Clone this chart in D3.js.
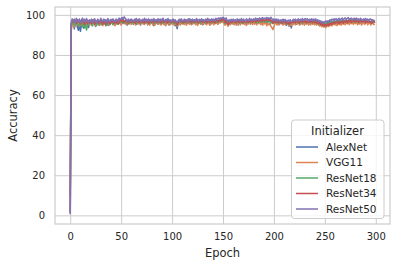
<!DOCTYPE html>
<html><head><meta charset="utf-8">
<script src="https://cdn.jsdelivr.net/npm/d3@7"></script>
<style>body{margin:0;background:#fff}svg{display:block;font-family:"DejaVu Sans",sans-serif}</style>
</head><body><svg id="c" width="396" height="268"></svg>
<script>
const seriesNames = ["AlexNet","VGG11","ResNet18","ResNet34","ResNet50"];
const colors = ["#4c72b0","#dd8452","#55a868","#c44e52","#8172b3"];
const xTicks = [0,50,100,150,200,250,300];
const yTicks = [0,20,40,60,80,100];

const alexnet = [1.5,93.6,96.2,97.1,93.0,95.4,96.8,93.9,92.3,95.7,91.8,95.0,96.9,93.4,96.3,94.1,97.0,95.2,93.7,96.4,
97.0,94.8,96.1,97.5,95.4,94.2,96.9,95.8,97.3,94.9,96.5,97.2,95.3,97.6,96.0,94.6,97.1,96.2,97.4,95.1,
96.4,97.6,95.5,96.9,94.8,96.3,97.5,95.4,97.9,96.1,97.2,95.7,98.0,96.8,95.6,97.3,94.9,97.0,96.2,97.7,
96.1,97.2,95.3,96.7,97.9,95.2,97.0,96.0,97.5,94.9,96.6,97.6,95.5,97.1,96.3,97.8,95.0,96.9,96.2,97.4,
95.8,97.1,94.7,97.5,96.2,97.2,95.4,97.9,96.5,95.6,97.4,95.9,96.9,95.1,97.6,96.0,97.1,94.9,96.7,95.8,
97.2,95.5,96.8,94.6,95.3,93.1,95.9,96.7,95.2,97.4,96.1,97.0,95.3,97.5,96.2,97.1,95.7,97.9,95.9,97.2,
95.5,96.8,97.6,96.0,97.1,95.2,97.4,96.2,96.9,95.6,97.7,95.3,97.0,96.1,97.5,95.8,96.7,94.9,97.2,96.3,
97.4,95.6,96.9,96.0,97.6,95.4,97.1,96.3,97.9,97.0,98.3,97.4,95.9,98.0,96.6,95.0,97.2,95.7,96.9,95.5,
97.1,95.3,97.4,96.0,96.8,94.9,97.5,95.7,96.9,96.2,97.3,95.6,96.7,95.0,97.1,96.0,97.6,95.4,96.9,96.2,
97.4,95.8,97.1,95.4,97.7,96.1,96.9,95.6,97.5,96.0,97.2,96.4,97.9,95.8,97.4,96.5,98.1,95.9,97.2,96.3,
97.5,96.0,97.1,95.5,96.8,95.1,97.3,95.9,97.0,95.3,97.4,95.7,94.8,96.7,95.4,94.3,96.5,93.5,95.6,97.0,
95.8,97.2,95.3,96.9,96.1,97.3,95.2,97.0,96.3,97.6,95.6,97.1,96.0,96.8,95.1,97.4,95.9,97.0,95.4,97.3,
96.2,97.1,95.5,96.8,95.0,97.2,95.9,94.8,96.4,94.5,96.0,94.7,96.5,95.1,96.7,95.6,97.0,95.2,96.8,97.2,
95.8,96.9,95.4,97.3,96.0,97.1,95.6,97.5,96.2,97.2,95.9,97.6,96.4,97.3,95.9,97.8,96.6,97.4,96.1,97.9,
96.7,97.5,95.9,97.3,96.4,97.7,96.0,97.2,97.5,95.8,97.0,97.6,95.9,97.3,96.5,95.7,97.1,96.2,96.9,96.0];

const vgg11 = [9.8,92.3,95.0,96.3,94.0,96.6,94.6,96.9,95.4,94.2,96.5,94.8,95.9,97.0,94.4,95.6,96.7,94.7,96.2,95.2,
96.5,94.7,95.8,96.9,95.3,94.5,96.6,95.5,94.8,96.3,95.1,96.8,94.6,96.0,97.1,94.9,96.4,95.5,94.7,96.6,
95.7,96.9,95.0,96.5,94.6,95.9,96.8,95.3,97.0,96.1,94.9,96.7,97.3,95.6,96.8,95.1,96.4,95.4,96.9,95.8,
95.2,96.7,95.6,97.0,94.9,96.2,96.8,95.4,96.5,95.0,96.7,95.6,96.9,95.2,96.1,96.8,95.3,96.5,94.8,95.9,
96.8,95.1,96.2,94.7,96.7,95.6,96.9,95.3,96.4,94.9,95.8,96.8,95.1,96.2,94.6,96.7,95.5,96.4,95.0,96.2,
95.4,96.8,94.8,95.9,95.1,94.2,95.6,96.7,94.9,96.3,95.4,96.8,95.2,96.5,94.8,95.9,96.7,95.3,96.2,95.0,
96.5,95.6,96.9,95.1,96.2,94.7,95.8,96.7,95.3,96.5,94.9,96.2,96.8,95.5,95.1,96.7,95.9,94.8,96.3,95.4,
96.9,95.1,96.5,95.6,97.1,95.3,96.8,95.8,97.2,96.2,96.9,95.6,94.8,96.5,95.3,94.3,95.9,95.0,96.5,95.6,
96.7,95.1,96.3,94.8,95.9,95.3,96.9,95.0,96.3,95.6,96.7,95.2,96.5,94.7,95.9,95.4,96.9,95.6,96.3,95.1,
96.6,95.3,96.9,95.0,96.3,95.6,96.8,95.2,96.0,94.8,96.6,95.4,96.3,94.6,95.7,95.0,95.9,94.3,93.6,92.6,
94.3,95.5,96.4,94.9,95.8,95.1,96.6,95.4,96.0,94.8,96.3,95.2,96.7,95.6,95.0,94.4,95.6,94.8,96.1,95.2,
96.4,95.0,96.1,95.4,96.8,94.9,95.7,96.6,95.2,96.4,94.8,96.0,95.4,96.8,95.1,95.8,94.9,96.4,95.3,96.1,
95.0,95.8,94.8,96.3,95.1,94.4,95.5,94.1,95.0,93.8,94.9,93.6,95.3,94.2,95.0,94.6,95.6,94.5,95.3,96.0,
94.9,95.7,94.6,96.1,95.1,95.9,94.8,96.3,95.3,96.1,95.0,96.5,95.5,96.3,95.1,96.7,95.6,96.2,95.2,96.5,
95.6,96.7,95.0,96.1,95.4,96.6,94.9,95.8,96.3,95.2,96.0,96.7,95.0,95.8,96.3,94.9,95.6,96.1,95.1,95.4];

const resnet18 = [10.4,94.7,96.8,95.3,96.7,94.6,96.1,97.0,95.1,94.3,96.5,96.9,94.1,95.9,93.4,95.4,92.4,94.8,96.5,95.5,
96.8,95.6,94.5,96.6,97.1,95.7,94.8,96.5,95.3,97.0,96.0,95.0,97.2,96.2,95.4,96.9,95.8,94.7,96.7,95.6,
97.1,96.0,95.2,96.9,96.2,95.4,97.0,96.4,95.6,97.3,96.5,97.1,95.8,96.9,96.1,97.4,95.9,96.6,95.4,97.0,
96.3,96.8,95.7,97.2,96.1,97.0,95.6,96.6,97.1,95.9,96.8,96.3,97.4,95.7,97.0,96.1,97.2,96.5,95.9,97.1,
96.0,97.0,96.5,95.6,97.2,96.3,96.8,95.9,97.1,96.5,95.5,97.0,96.1,96.8,96.3,97.4,95.9,96.6,97.1,95.7,
96.8,96.0,97.2,95.5,96.6,94.8,95.9,97.0,96.3,96.8,95.6,97.1,96.1,96.8,96.5,95.9,97.2,96.3,97.0,95.7,
96.8,96.3,97.1,95.9,96.6,97.2,96.0,96.8,95.6,97.0,96.3,97.4,96.5,95.9,97.1,96.1,96.8,96.3,97.2,95.9,
97.0,96.5,97.4,96.0,96.8,96.3,97.6,97.0,96.5,97.7,97.1,96.8,95.7,96.6,95.9,95.1,96.4,96.8,96.0,97.1,
96.5,97.0,95.9,96.8,96.3,97.2,96.0,97.0,96.5,95.6,97.1,96.3,96.8,95.9,97.2,96.5,97.0,96.1,96.8,96.3,
97.1,96.5,97.4,96.0,97.0,96.3,97.2,96.8,96.5,97.6,97.0,96.3,97.2,96.8,97.7,96.5,97.1,96.0,96.5,95.6,
96.3,97.0,95.9,96.8,96.1,97.1,95.7,96.6,97.0,95.9,96.8,96.3,95.5,97.0,96.1,95.2,96.6,95.7,96.8,96.3,
97.0,96.1,97.2,96.5,95.9,97.1,96.3,96.8,95.7,97.0,96.5,97.2,96.0,96.8,96.3,97.1,95.9,96.8,96.5,97.0,
96.0,96.8,95.7,96.6,95.3,96.5,95.0,96.1,94.7,95.9,94.9,96.4,94.6,96.0,95.3,96.6,95.8,96.5,96.1,96.8,
95.8,96.6,97.0,96.1,96.8,95.9,97.1,96.3,97.0,96.5,97.2,96.1,96.8,96.3,97.4,96.8,97.1,96.5,97.5,97.0,
96.3,97.2,96.8,97.1,96.1,97.4,96.9,96.5,97.2,96.8,96.3,97.1,97.4,96.5,97.0,96.1,96.8,97.1,96.3,96.7];

const resnet34 = [1.0,95.6,97.5,96.4,97.8,96.9,95.7,97.6,96.5,97.7,95.4,96.8,97.6,96.2,95.1,97.3,96.4,95.6,97.2,96.0,
97.1,95.8,97.6,96.5,95.3,96.9,96.2,97.7,95.6,96.4,97.4,96.0,95.4,97.1,96.4,95.0,97.3,96.0,96.6,95.6,
96.9,96.2,97.4,95.8,96.6,96.0,97.3,95.4,96.4,97.1,97.7,96.6,97.5,96.2,96.9,97.6,96.4,96.0,97.1,96.6,
96.2,97.3,96.4,96.9,95.8,97.1,96.4,97.6,96.0,96.6,97.3,96.2,96.9,96.0,97.5,96.4,97.1,95.7,96.6,97.3,
96.4,96.9,96.0,97.5,96.6,96.2,97.1,96.4,97.3,96.0,96.9,97.7,96.2,96.6,97.3,96.0,97.1,96.4,96.9,96.2,
97.3,96.6,96.0,97.1,96.4,95.1,96.2,96.9,97.5,96.4,97.1,96.0,96.6,97.3,96.2,96.9,97.7,96.4,97.1,96.0,
96.6,97.3,96.2,96.9,97.5,96.4,96.0,97.1,96.6,97.3,96.2,96.9,96.4,97.5,96.0,96.6,97.1,96.2,96.9,96.4,
97.3,96.6,96.0,97.1,97.7,96.4,97.3,96.9,97.9,97.1,98.1,97.5,96.2,96.9,95.6,95.2,96.4,96.0,96.9,96.2,
97.1,96.4,96.9,96.0,96.6,97.3,96.2,96.9,96.4,97.1,96.0,96.6,97.3,96.4,96.9,96.2,97.1,96.6,97.5,96.4,
96.9,97.3,96.4,97.1,97.7,96.6,97.3,96.9,97.9,97.1,97.5,96.9,98.1,97.3,97.7,97.1,98.2,97.3,96.6,95.8,
96.9,96.2,97.1,96.4,96.0,96.9,96.2,96.6,95.8,96.4,97.1,96.0,96.6,95.6,96.2,95.4,96.4,96.0,96.9,96.2,
96.6,96.0,97.1,96.4,96.9,95.8,96.6,97.3,96.2,96.9,96.4,97.1,96.0,96.6,96.2,97.3,96.4,96.9,96.0,96.6,
96.2,96.9,95.8,96.4,95.6,96.2,95.0,95.8,94.6,95.4,94.3,95.2,94.8,95.6,94.5,95.8,95.2,96.0,95.4,96.4,
95.8,96.6,96.0,96.4,95.6,96.9,96.2,96.6,95.8,97.1,96.4,96.9,96.0,97.3,96.6,97.1,96.2,97.5,96.9,96.4,
97.3,96.6,97.1,96.2,96.9,97.5,96.4,97.1,96.6,97.3,96.0,96.9,96.4,97.1,96.2,96.6,95.8,96.4,96.9,96.2];

const resnet50 = [0.6,96.2,98.0,96.9,97.7,96.1,98.3,97.2,96.5,97.9,95.9,97.4,98.4,96.7,97.8,96.3,98.2,97.0,96.2,97.6,
96.7,97.9,96.0,97.2,98.1,96.8,95.9,97.8,97.0,96.4,98.3,97.4,96.5,97.9,96.8,97.6,96.2,98.2,97.0,96.6,
97.8,96.8,98.0,97.2,96.5,97.9,97.4,96.6,98.4,97.6,98.2,98.7,97.9,99.0,98.3,97.6,96.8,97.9,97.3,96.7,
97.9,97.1,96.6,97.8,97.0,98.2,96.8,97.6,98.0,96.9,96.4,97.8,97.1,98.3,96.8,97.6,96.9,98.0,97.3,96.6,
97.8,96.9,98.2,96.7,97.6,97.1,98.0,96.5,97.4,97.9,96.9,98.3,97.5,96.8,97.8,97.1,98.2,96.9,97.6,96.6,
97.4,97.9,96.7,97.6,96.9,96.2,97.2,97.8,96.6,98.0,97.3,96.8,97.9,97.1,97.6,96.6,98.0,96.9,97.8,97.1,
97.9,96.8,97.6,96.9,98.2,97.3,96.6,97.8,97.1,98.0,96.9,97.6,96.7,97.9,97.3,98.3,96.9,97.8,97.1,98.0,
97.3,97.9,96.9,98.3,97.5,98.0,98.5,97.7,98.6,98.1,98.8,98.4,97.9,98.5,97.3,96.6,97.6,96.8,97.8,97.1,
97.9,96.9,97.6,96.7,98.0,97.3,97.8,96.9,98.2,97.1,97.9,97.3,96.7,98.0,97.5,96.9,98.3,97.3,97.9,97.1,
98.0,97.5,98.4,97.7,98.2,97.3,98.5,97.8,98.3,98.6,97.9,98.4,98.0,98.7,98.2,98.5,97.9,98.8,98.1,97.3,
97.9,97.1,98.0,96.9,97.8,97.3,96.6,97.6,96.9,97.9,96.8,97.7,97.1,96.5,97.4,96.8,97.6,96.4,97.0,97.8,
97.1,97.9,96.8,97.6,98.0,96.9,97.8,97.3,98.2,97.1,97.9,98.2,97.5,98.0,96.9,97.8,97.3,98.1,97.1,97.9,
97.3,98.0,96.9,97.6,96.6,97.1,96.2,96.8,95.9,96.6,96.1,97.0,96.5,97.1,96.6,97.6,97.0,97.9,97.4,98.0,
97.5,98.1,97.1,97.9,98.3,97.3,98.0,98.4,97.6,98.1,98.5,97.8,98.2,98.6,97.7,98.1,98.4,97.5,98.0,98.3,
97.8,98.4,97.5,98.0,97.3,98.3,97.7,97.1,98.0,97.5,98.2,97.3,97.9,97.0,97.8,98.0,97.2,97.6,96.9,97.4];

const seriesValues = [alexnet, vgg11, resnet18, resnet34, resnet50];

const svg = d3.select("#c");
const L = 55, R = 390, T = 7, B = 224;
const textCol = "#262626", gridCol = "#cccccc";

const nPts = d3.max(seriesValues, s => s.length) - 1;
const xPad = nPts * 0.05;
const x = d3.scaleLinear().domain([-xPad, nPts + xPad]).range([L, R]);
const yMin = d3.min(seriesValues, s => d3.min(s)), yMax = d3.max(seriesValues, s => d3.max(s));
const yPad = (yMax - yMin) * 0.05;
const y = d3.scaleLinear().domain([yMin - yPad, yMax + yPad]).range([B, T]);

// grid
const xAxis = svg.append("g").attr("transform", `translate(0,${B})`)
  .call(d3.axisBottom(x).tickValues(xTicks).tickSize(-(B - T)).tickPadding(9));
const yAxis = svg.append("g").attr("transform", `translate(${L},0)`)
  .call(d3.axisLeft(y).tickValues(yTicks).tickSize(-(R - L)).tickPadding(10));
[xAxis, yAxis].forEach(a => {
  a.select(".domain").remove();
  a.selectAll(".tick line").attr("stroke", gridCol).attr("stroke-width", 1);
  a.selectAll(".tick text").attr("fill", textCol).style("font-size", "10px").style("font-family", "DejaVu Sans");
});

// frame
svg.append("rect").attr("x", L).attr("y", T).attr("width", R - L).attr("height", B - T)
  .attr("fill", "none").attr("stroke", gridCol).attr("stroke-width", 1.2);

// lines
const line = d3.line().x((d, i) => x(i)).y(d => y(d));
seriesValues.forEach((s, k) => {
  svg.append("path").datum(s).attr("d", line).attr("fill", "none")
    .attr("stroke", colors[k]).attr("stroke-width", 1.5).attr("stroke-linejoin", "round");
});

// axis labels
svg.append("text").attr("x", (L + R) / 2).attr("y", 257).attr("text-anchor", "middle")
  .attr("fill", textCol).style("font-size", "11.5px").text("Epoch");
svg.append("text").attr("transform", `translate(17,${(T + B) / 2}) rotate(-90)`).attr("text-anchor", "middle")
  .attr("fill", textCol).style("font-size", "11.5px").text("Accuracy");

// legend
const lg = svg.append("g");
lg.append("rect").attr("x", 291.5).attr("y", 120).attr("width", 92.5).attr("height", 98.5).attr("rx", 3)
  .attr("fill", "#ffffff").attr("fill-opacity", 0.8).attr("stroke", gridCol).attr("stroke-width", 1);
lg.append("text").attr("x", 337.5).attr("y", 134.5).attr("text-anchor", "middle")
  .attr("fill", textCol).style("font-size", "11.5px").text("Initializer");
seriesNames.forEach((n, k) => {
  const yy = 147 + k * 15.5;
  lg.append("line").attr("x1", 296).attr("x2", 318).attr("y1", yy).attr("y2", yy)
    .attr("stroke", colors[k]).attr("stroke-width", 1.5);
  lg.append("text").attr("x", 326).attr("y", yy + 3.8).attr("fill", textCol)
    .style("font-size", "10.5px").text(n);
});
</script></body></html>
